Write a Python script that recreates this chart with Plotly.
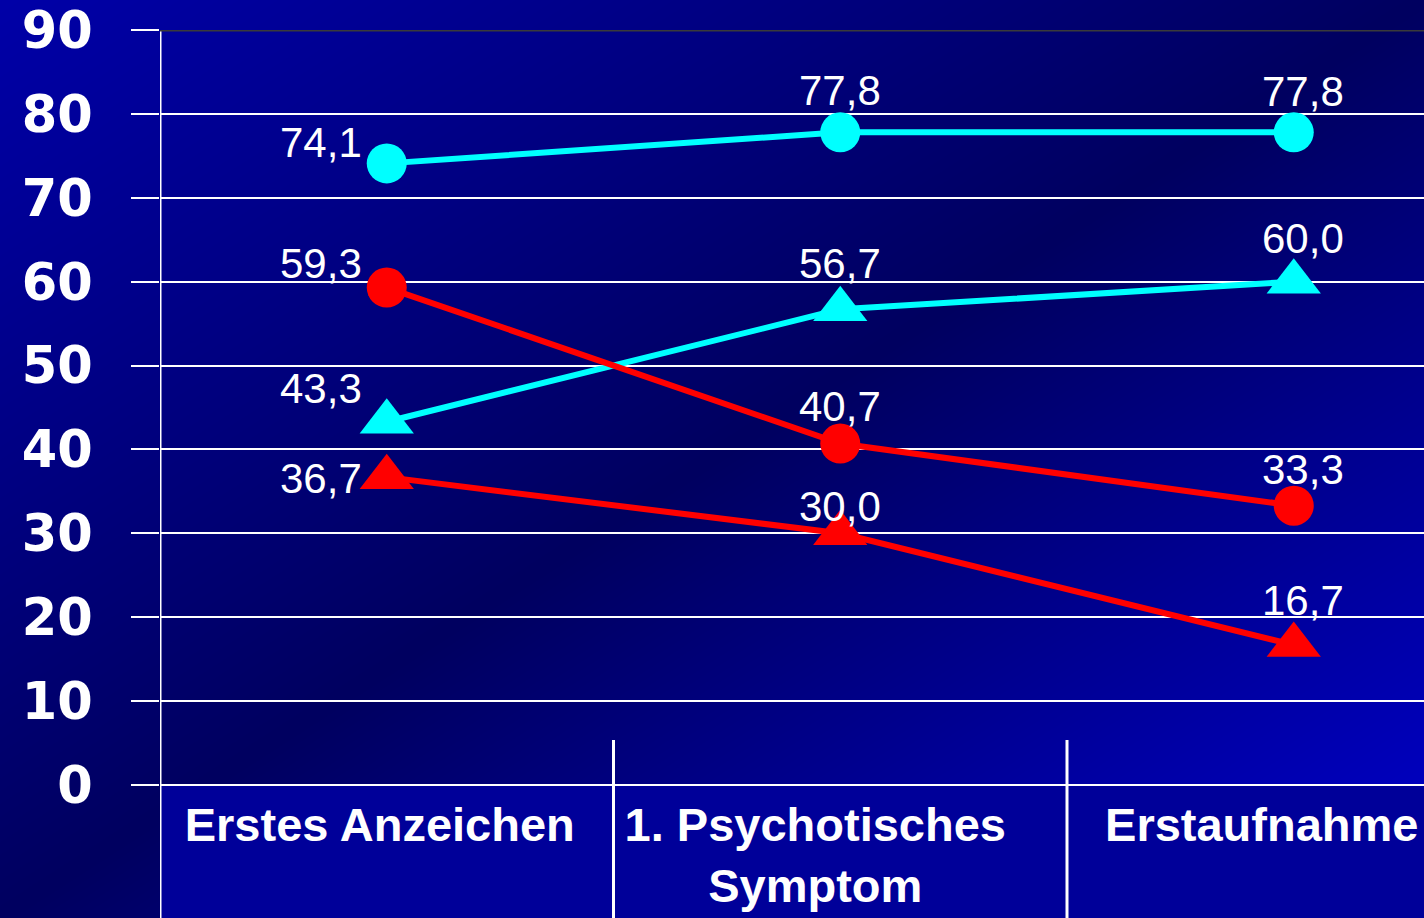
import base64
import struct
import zlib

import numpy as np
import plotly.graph_objects as go

# ---------------------------------------------------------------- data
categories = ["Erstes Anzeichen", "1. Psychotisches<br>Symptom", "Erstaufnahme"]
cyan_circle = [74.1, 77.8, 77.8]
cyan_triangle = [43.3, 56.7, 60.0]
red_circle = [59.3, 40.7, 33.3]
red_triangle = [36.7, 30.0, 16.7]
y_ticks = [0, 10, 20, 30, 40, 50, 60, 70, 80, 90]

# ---------------------------------------------------------------- geometry
W, H = 1424, 918
PLOT_LEFT, PLOT_TOP, PLOT_BOTTOM = 160, 30, 785
CAT_PX = 453.5  # pixel width of one category slot
x_max = -0.5 + (W - PLOT_LEFT) / CAT_PX
y_dom = [(H - PLOT_BOTTOM) / H, (H - PLOT_TOP) / H]
x_dom = [PLOT_LEFT / W, 1.0]

CYAN = "#00FFFF"
RED = "#FF0000"
LABEL_FS = 42
# horizontal nudge (px) of each category caption relative to its slot centre
CAPTION_NUDGE = [-7, -25, -32]


def png_uri(arr):
    """Encode an HxWx3 uint8 array as a PNG data URI."""
    h, w, _ = arr.shape
    raw = b"".join(b"\x00" + arr[r].tobytes() for r in range(h))

    def chunk(tag, data):
        return (struct.pack(">I", len(data)) + tag + data
                + struct.pack(">I", zlib.crc32(tag + data) & 0xFFFFFFFF))

    png = (b"\x89PNG\r\n\x1a\n"
           + chunk(b"IHDR", struct.pack(">IIBBBBB", w, h, 8, 2, 0, 0, 0))
           + chunk(b"IDAT", zlib.compress(raw, 9))
           + chunk(b"IEND", b""))
    return "data:image/png;base64," + base64.b64encode(png).decode()


# diagonal blue backdrop: bright corner, dark middle, bright opposite corner
yy, xx = np.mgrid[0:H, 0:W].astype(float)
t = (xx / W + yy / H) / 2.0
blue = np.where(t < 0.5, 168 + (96 - 168) * (t / 0.5), 96 + (205 - 96) * ((t - 0.5) / 0.5))
band = (xx >= PLOT_LEFT) & (yy >= PLOT_BOTTOM + 1)
blue = np.where(band, 153, blue)
img = np.zeros((H, W, 3), dtype=np.uint8)
img[..., 2] = np.clip(blue, 0, 255).astype(np.uint8)
bg_uri = png_uri(img)

fig = go.Figure()

series = [
    (cyan_circle, CYAN, "circle", 40),
    (cyan_triangle, CYAN, "triangle-up", 47),
    (red_circle, RED, "circle", 40),
    (red_triangle, RED, "triangle-up", 47),
]
xs = list(range(len(categories)))
for vals, color, symbol, size in series:
    fig.add_trace(go.Scatter(
        x=xs, y=vals, mode="lines+markers",
        line=dict(color=color, width=6),
        marker=dict(symbol=symbol, size=size, color=color, line=dict(width=0)),
        showlegend=False, hoverinfo="skip",
    ))

# label placement per series: baseline rise above the point (px) for each category
label_rise = [
    [6, 27, 26],
    [19, 31, 29],
    [9, 23, 22],
    [-16, 12, 30],
]
annotations = []
for (vals, _, _, _), rises in zip(series, label_rise):
    for i, (v, rise) in enumerate(zip(vals, rises)):
        if i == 0:
            xanchor, xshift = "right", -23
        else:
            xanchor, xshift = "center", (0 if i == 1 else 9)
        annotations.append(dict(
            x=i, y=v, xref="x", yref="y",
            text=f"{v:.1f}".replace(".", ","),
            showarrow=False, xanchor=xanchor, yanchor="middle",
            xshift=xshift, yshift=rise + 0.3465 * LABEL_FS,
            font=dict(family="Liberation Sans, Arial", size=LABEL_FS, color="white"),
        ))

shapes = [
    # left value axis running down through the category band
    dict(type="line", xref="x", yref="paper", x0=-0.5, x1=-0.5, y0=0, y1=y_dom[1],
         line=dict(color="white", width=3), layer="above"),
    # dark top border of the plot area
    dict(type="line", xref="paper", yref="y", x0=x_dom[0], x1=1, y0=90, y1=90,
         line=dict(color="#3a3a3a", width=3), layer="above"),
]
# category separators
sep_top = (H - 740) / H
for k in range(1, len(categories)):
    shapes.append(dict(type="line", xref="x", yref="paper", x0=k - 0.5, x1=k - 0.5,
                       y0=0, y1=sep_top, line=dict(color="white", width=3), layer="above"))

caption_pos = [i + n / CAT_PX for i, n in zip(xs, CAPTION_NUDGE)]

fig.update_layout(
    width=W, height=H,
    margin=dict(l=0, r=0, t=0, b=0, autoexpand=False),
    paper_bgcolor="#000066",
    plot_bgcolor="rgba(0,0,0,0)",
    images=[dict(source=bg_uri, xref="paper", yref="paper", x=0, y=1, sizex=1, sizey=1,
                 xanchor="left", yanchor="top", sizing="stretch", layer="below")],
    xaxis=dict(
        domain=x_dom, range=[-0.5, x_max], showgrid=False, zeroline=False, showline=False,
        automargin=False, ticklabeloverflow="allow",
        tickmode="array", tickvals=caption_pos, ticktext=categories, ticks="",
        ticklabelstandoff=8,
        tickfont=dict(family="Liberation Sans, Arial", size=47, color="white", weight="bold"),
    ),
    yaxis=dict(
        domain=y_dom, range=[0, 90], tickmode="array", tickvals=y_ticks,
        automargin=False,
        showgrid=True, gridcolor="white", gridwidth=2,
        zeroline=True, zerolinecolor="white", zerolinewidth=2,
        showline=False, ticks="outside", ticklen=28, tickwidth=2, tickcolor="white",
        ticklabelstandoff=28,
        tickfont=dict(family="DejaVu Sans", size=51, color="white", weight="bold"),
    ),
    annotations=annotations,
    shapes=shapes,
)

fig.write_html("out.html")
